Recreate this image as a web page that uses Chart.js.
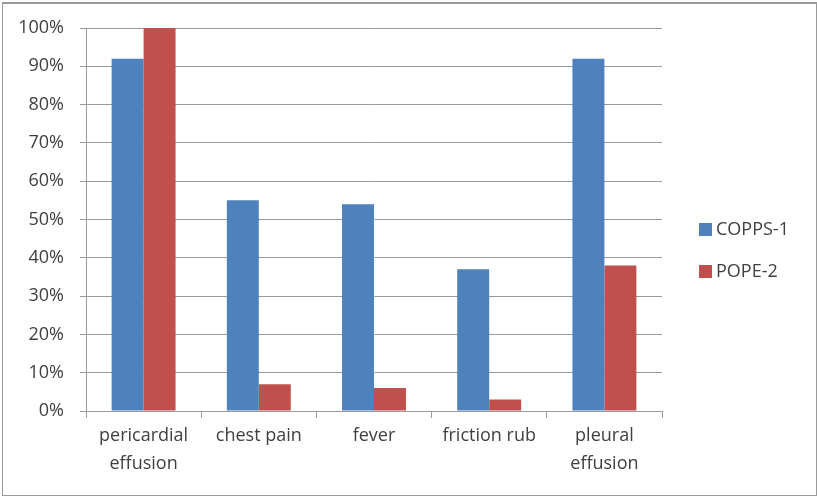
<!DOCTYPE html>
<html>
<head>
<meta charset="utf-8">
<script src="https://cdn.jsdelivr.net/npm/chart.js@4.4.0/dist/chart.umd.min.js"></script>
<style>
  html, body { margin: 0; padding: 0; background: #fff; }
  #wrap { position: relative; width: 817px; height: 498px; }
  #frame { position: absolute; left: 2px; top: 2px; width: 813px; height: 491px;
           border: 1px solid #9a9a9a; border-top-width: 2px; pointer-events: none; }
</style>
</head>
<body>
<div id="wrap">
  <canvas id="chart" width="817" height="498"></canvas>
  <div id="frame"></div>
</div>
<script>
var categories = [["pericardial", "effusion"], "chest pain", "fever", "friction rub", ["pleural", "effusion"]];
var copps1 = [92, 55, 54, 37, 92];
var pope2 = [100, 7, 6, 3, 38];
var yTicks = [0, 10, 20, 30, 40, 50, 60, 70, 80, 90, 100];

var blue = '#4f81bd';
var red = '#c0504d';
var textColor = '#404040';
var gridColor = '#9a9a9a';

// legend drawn at the right like the Excel one
var sideLegend = {
    id: 'sideLegend',
    afterDraw: function (chart) {
        var ctx = chart.ctx;
        ctx.save();
        ctx.font = '18px "Open Sans"';
        ctx.textBaseline = 'middle';
        chart.data.datasets.forEach(function (ds, i) {
            var y = 229 + i * 42;
            ctx.fillStyle = ds.backgroundColor;
            ctx.fillRect(699, y - 6, 13, 13);
            ctx.fillStyle = textColor;
            ctx.fillText(ds.label, 716, y + 1);
        });
        ctx.restore();
    }
};

var chart = new Chart(document.getElementById('chart'), {
    type: 'bar',
    data: {
        labels: categories,
        datasets: [
            { label: 'COPPS-1', data: copps1, backgroundColor: blue },
            { label: 'POPE-2', data: pope2, backgroundColor: red }
        ]
    },
    options: {
        responsive: false,
        animation: false,
        layout: { padding: { left: 0, right: 155, top: 28, bottom: 0 } },
        datasets: { bar: { categoryPercentage: 0.555, barPercentage: 1.0 } },
        plugins: {
            legend: { display: false },
            tooltip: { enabled: false }
        },
        scales: {
            x: {
                grid: { offset: true, drawOnChartArea: false, drawTicks: true, tickLength: 7, color: gridColor },
                border: { display: true, color: gridColor, width: 1 },
                ticks: { color: textColor, font: { family: 'Open Sans', size: 18, lineHeight: 1.55 }, padding: 4, maxRotation: 0, autoSkip: false },
                afterFit: function (scale) { scale.height = 498 - 411; }
            },
            y: {
                min: 0,
                max: 100,
                afterBuildTicks: function (scale) { scale.ticks = yTicks.map(function (v) { return { value: v }; }); },
                grid: { color: gridColor, lineWidth: 1, tickLength: 6 },
                border: { display: true, color: gridColor, width: 1 },
                ticks: {
                    color: textColor,
                    font: { family: 'Open Sans', size: 18 },
                    padding: 16,
                    callback: function (v) { return v + '%'; }
                },
                afterFit: function (scale) { scale.width = 86; }
            }
        }
    },
    plugins: [sideLegend]
});
</script>
</body>
</html>
